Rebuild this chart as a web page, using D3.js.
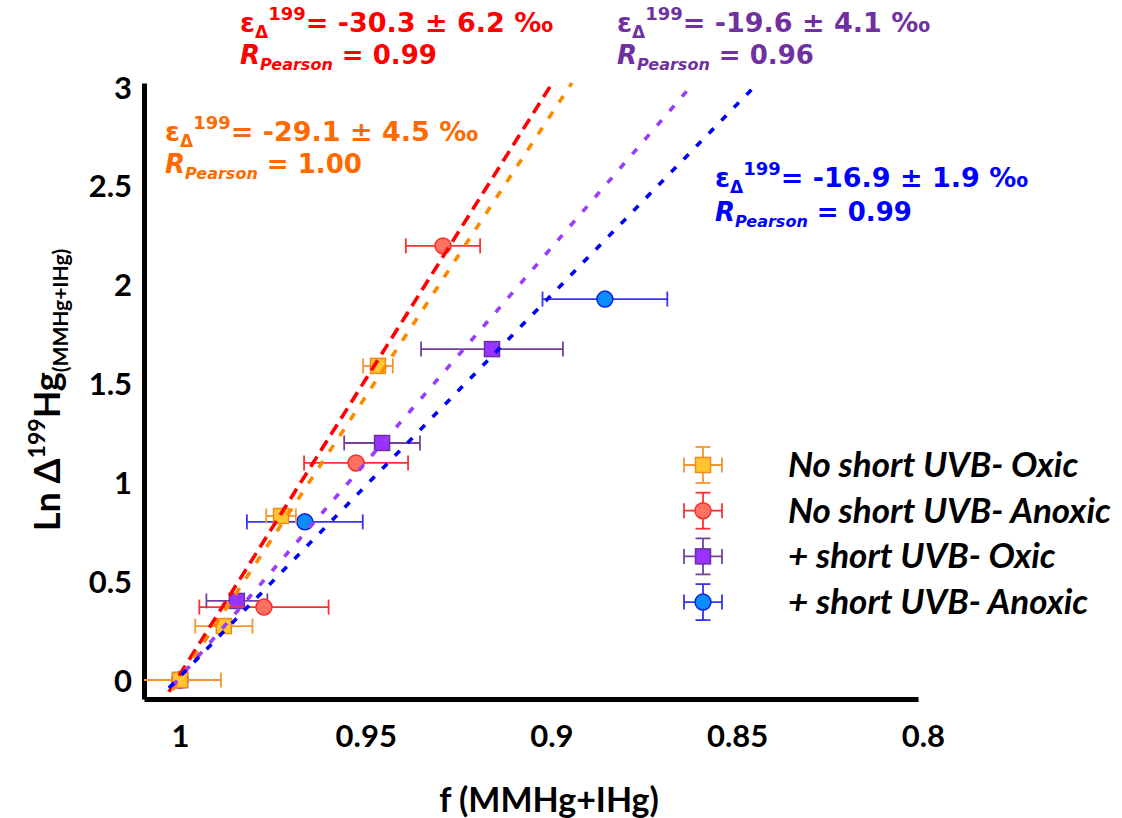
<!DOCTYPE html>
<html><head><meta charset="utf-8">
<script src="https://cdn.jsdelivr.net/npm/d3@7"></script>
<style>body{margin:0;background:#fff} svg{display:block}</style>
</head><body>
<svg id="chart" width="1122" height="818"></svg>
<script>
// ---------------- DATA ----------------
const seriesNames = ["No short UVB- Oxic", "No short UVB- Anoxic", "+ short UVB- Oxic", "+ short UVB- Anoxic"];

// f (MMHg+IHg) values, Ln Δ199Hg values, x error (±)
const fOxicNo   = [1.000, 0.9882, 0.9728, 0.9467];
const lnOxicNo  = [0.000, 0.273, 0.830, 1.589];
const errOxicNo = [0.011, 0.0077, 0.0040, 0.0040];

const fAnoxNo   = [1.000, 0.9774, 0.9526, 0.9292];
const lnAnoxNo  = [0.000, 0.369, 1.098, 2.196];
const errAnoxNo = [0, 0.0174, 0.0140, 0.0100];

const fOxicUV   = [1.000, 0.9847, 0.9456, 0.9160];
const lnOxicUV  = [0.000, 0.400, 1.199, 1.674];
const errOxicUV = [0, 0.0082, 0.0102, 0.0191];

const fAnoxUV   = [1.000, 0.9664, 0.8856];
const lnAnoxUV  = [0.000, 0.800, 1.927];
const errAnoxUV = [0, 0.0156, 0.0168];

// regression lines (start, end)
const fitOxicNoF = [1.002, 0.8945], fitOxicNoLn = [-0.05, 3.02];
const fitAnoxNoF = [1.003, 0.9001], fitAnoxNoLn = [-0.06, 3.01];
const fitOxicUVF = [1.002, 0.8619], fitOxicUVLn = [-0.03, 3.015];
const fitAnoxUVF = [1.003, 0.8444], fitAnoxUVLn = [-0.04, 3.02];

// annotation texts (same order as seriesNames)
const epsValues = ["-29.1 ± 4.5 ‰", "-30.3 ± 6.2 ‰", "-19.6 ± 4.1 ‰", "-16.9 ± 1.9 ‰"];
const rValues   = ["1.00", "0.99", "0.96", "0.99"];

const xTicks = [1, 0.95, 0.9, 0.85, 0.8];
const xTickLabels = ["1", "0.95", "0.9", "0.85", "0.8"];
const yTicks = [0, 0.5, 1, 1.5, 2, 2.5, 3];
const yTickLabels = ["0", "0.5", "1", "1.5", "2", "2.5", "3"];

// ---------------- STYLE ----------------
const calib = "Lato, 'Liberation Sans', sans-serif";
const verd = "'DejaVu Sans', Verdana, sans-serif";

const styles = [
  {shape:"square", fill:"#ffc632", stroke:"#f08a1c", bar:"#f5952e", line:"#ff8a00", dash:"8,11", text:"#ff6a00"},
  {shape:"circle", fill:"#ff7261", stroke:"#ff2a2a", bar:"#ff3030", line:"#ff0000", dash:"12,7", text:"#ff0000"},
  {shape:"square", fill:"#9933ff", stroke:"#6a2f9c", bar:"#74409f", line:"#9b3bff", dash:"7,12", text:"#7030a0"},
  {shape:"circle", fill:"#0b8cff", stroke:"#0a20e0", bar:"#3535ee", line:"#0000ff", dash:"7,11", text:"#0000ff"}
];

const series = [
  {f:fOxicNo, ln:lnOxicNo, err:errOxicNo, fitF:fitOxicNoF, fitLn:fitOxicNoLn},
  {f:fAnoxNo, ln:lnAnoxNo, err:errAnoxNo, fitF:fitAnoxNoF, fitLn:fitAnoxNoLn},
  {f:fOxicUV, ln:lnOxicUV, err:errOxicUV, fitF:fitOxicUVF, fitLn:fitOxicUVLn},
  {f:fAnoxUV, ln:lnAnoxUV, err:errAnoxUV, fitF:fitAnoxUVF, fitLn:fitAnoxUVLn}
].map((s, i) => Object.assign(s, {name: seriesNames[i], style: styles[i]}));

// ---------------- SCALES ----------------
const svg = d3.select("#chart");
const x = d3.scaleLinear().domain([1.0097, 0.8013]).range([144, 918]);
const y = d3.scaleLinear().domain([-0.096, 3.02]).range([699, 83]);

svg.append("defs").append("clipPath").attr("id", "plotclip")
  .append("rect").attr("x", x(1.0097)).attr("y", 0).attr("width", x(0.8013) - x(1.0097)).attr("height", y(-0.096));

// ---------------- AXES ----------------
const xAxis = svg.append("g").attr("transform", `translate(0,${y(-0.096)})`)
  .call(d3.axisBottom(x).tickValues(xTicks).tickSize(0).tickPadding(0).tickFormat((d, i) => xTickLabels[i]));
xAxis.select(".domain").attr("stroke", "#000").attr("stroke-width", 5);
xAxis.selectAll(".tick text").attr("y", 48).attr("dy", 0)
  .attr("font-family", calib).attr("font-weight", "bold").attr("font-size", 31).attr("fill", "#000");

const yAxis = svg.append("g").attr("transform", `translate(${x(1.0097)},0)`)
  .call(d3.axisLeft(y).tickValues(yTicks).tickSize(0).tickPadding(0).tickFormat((d, i) => yTickLabels[i]));
yAxis.select(".domain").attr("stroke", "#000").attr("stroke-width", 5);
yAxis.selectAll(".tick text").attr("x", -12).attr("dy", "0.36em")
  .attr("font-family", calib).attr("font-weight", "bold").attr("font-size", 31).attr("fill", "#000");

// axis titles
svg.append("text").attr("x", 549).attr("y", 812).attr("text-anchor", "middle")
  .attr("font-family", calib).attr("font-weight", "bold").attr("font-size", 34)
  .text("f (MMHg+IHg)");

const yt = svg.append("text").attr("transform", "translate(60,390) rotate(-90)").attr("text-anchor", "middle")
  .attr("font-family", calib).attr("font-weight", "bold").attr("font-size", 36);
yt.append("tspan").text("Ln Δ");
yt.append("tspan").attr("font-size", 23).attr("dy", -15).text("199");
yt.append("tspan").attr("dy", 15).text("Hg");
yt.append("tspan").attr("font-size", 21).attr("dy", 8).text("(MMHg+IHg)");

// ---------------- PLOT ----------------
const plot = svg.append("g").attr("clip-path", "url(#plotclip)");
const drawOrder = [3, 2, 1, 0];

function drawMarker(g, s, cx, cy) {
  if (s.style.shape === "square") {
    g.append("rect").attr("x", cx - 7.5).attr("y", cy - 7.5).attr("width", 15).attr("height", 15)
      .attr("fill", s.style.fill).attr("stroke", s.style.stroke).attr("stroke-width", 1.5);
  } else {
    g.append("circle").attr("cx", cx).attr("cy", cy).attr("r", 8)
      .attr("fill", s.style.fill).attr("stroke", s.style.stroke).attr("stroke-width", 1.5);
  }
}

drawOrder.forEach(k => {
  const s = series[k];
  const g = plot.append("g");
  s.f.forEach((fv, i) => {
    const e = s.err[i];
    if (e > 0) {
      const cy = y(s.ln[i]);
      g.append("line").attr("x1", x(fv + e)).attr("x2", x(fv - e)).attr("y1", cy).attr("y2", cy)
        .attr("stroke", s.style.bar).attr("stroke-width", 1.8);
      [fv + e, fv - e].forEach(v => {
        g.append("line").attr("x1", x(v)).attr("x2", x(v)).attr("y1", cy - 7.5).attr("y2", cy + 7.5)
          .attr("stroke", s.style.bar).attr("stroke-width", 1.8);
      });
    }
  });
  s.f.forEach((fv, i) => drawMarker(g, s, x(fv), y(s.ln[i])));
});

// regression lines on top
[1, 0, 2, 3].forEach(k => {
  const s = series[k];
  plot.append("line")
    .attr("x1", x(s.fitF[0])).attr("y1", y(s.fitLn[0]))
    .attr("x2", x(s.fitF[1])).attr("y2", y(s.fitLn[1]))
    .attr("stroke", s.style.line).attr("stroke-width", 3.6)
    .attr("stroke-dasharray", s.style.dash);
});

// ---------------- ANNOTATIONS ----------------
const annPos = [ // [x, baseline1, baseline2] for each series
  [165, 141, 173], [240, 32, 64], [617, 32, 64], [715, 187, 221]
];
series.forEach((s, i) => {
  const [ax, b1, b2] = annPos[i];
  const t1 = svg.append("text").attr("x", ax).attr("y", b1)
    .attr("font-family", verd).attr("font-weight", "bold").attr("font-size", 27).attr("fill", s.style.text);
  t1.append("tspan").text("ε");
  t1.append("tspan").attr("font-size", 17).attr("dy", 6).text("Δ");
  t1.append("tspan").attr("font-size", 18).attr("dy", -18).text("199");
  t1.append("tspan").attr("dy", 12).text("= " + epsValues[i]);

  const t2 = svg.append("text").attr("x", ax).attr("y", b2)
    .attr("font-family", verd).attr("font-weight", "bold").attr("font-size", 26).attr("fill", s.style.text);
  t2.append("tspan").attr("font-style", "italic").text("R");
  t2.append("tspan").attr("font-style", "italic").attr("font-size", 16).attr("dy", 6).text("Pearson");
  t2.append("tspan").attr("dy", -6).text(" = " + rValues[i]);
});

// ---------------- LEGEND ----------------
const legend = svg.append("g").attr("transform", "translate(703,465)");
series.forEach((s, i) => {
  const g = legend.append("g").attr("transform", `translate(0,${i * 45.7})`);
  const c = s.style.bar;
  g.append("line").attr("x1", -19).attr("x2", 19).attr("y1", 0).attr("y2", 0).attr("stroke", c).attr("stroke-width", 1.8);
  g.append("line").attr("x1", 0).attr("x2", 0).attr("y1", -18).attr("y2", 18).attr("stroke", c).attr("stroke-width", 1.8);
  [[-19, 0, 0, 7.5], [19, 0, 0, 7.5], [0, -18, 7.5, 0], [0, 18, 7.5, 0]].forEach(([px, py, hw, hh]) => {
    g.append("line").attr("x1", px - hw).attr("x2", px + hw).attr("y1", py - hh).attr("y2", py + hh)
      .attr("stroke", c).attr("stroke-width", 1.8);
  });
  drawMarker(g, s, 0, 0);
  g.append("text").attr("x", 85).attr("y", 12)
    .attr("font-family", calib).attr("font-weight", "bold").attr("font-style", "italic").attr("font-size", 35)
    .attr("fill", "#000").text(s.name);
});
</script>
</body></html>
